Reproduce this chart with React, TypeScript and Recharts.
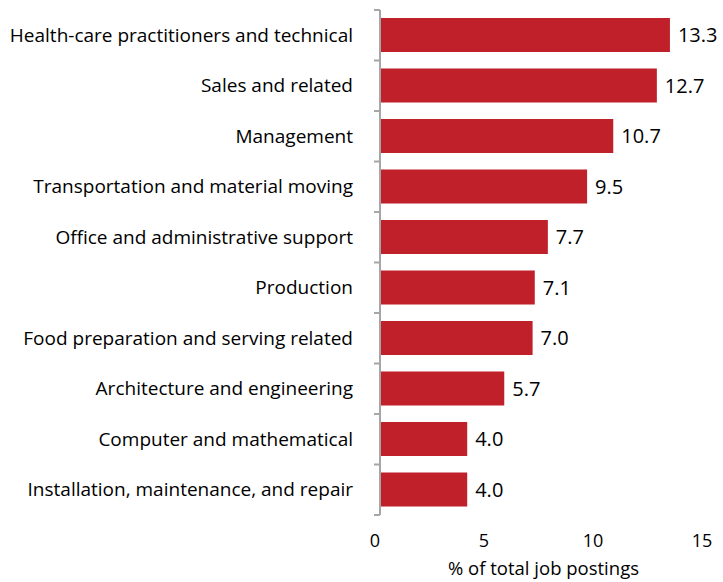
import React from 'react';
import { BarChart, Bar, XAxis, YAxis, LabelList } from 'recharts';

const categories = [
  'Health-care practitioners and technical',
  'Sales and related',
  'Management',
  'Transportation and material moving',
  'Office and administrative support',
  'Production',
  'Food preparation and serving related',
  'Architecture and engineering',
  'Computer and mathematical',
  'Installation, maintenance, and repair',
];
const shares = [13.3, 12.7, 10.7, 9.5, 7.7, 7.1, 7.0, 5.7, 4.0, 4.0];
const xTicks = [0, 5, 10, 15];

const data = categories.map((name, i) => ({ name, value: shares[i] }));

const W = 723;
const H = 582;
const TOP = 10;
const BOTTOM = 67;
const BAND = (H - TOP - BOTTOM) / categories.length;
const FONT = '"Open Sans", Lato, sans-serif';

const CategoryTick = (props: any) => {
  const { x, y, payload, index } = props;
  const axisX = x + 8;
  return (
    <g>
      <line x1={axisX - 6} x2={axisX} y1={y - BAND / 2} y2={y - BAND / 2} stroke="#a6a6a6" strokeWidth={2} />
      {index === categories.length - 1 && (
        <line x1={axisX - 6} x2={axisX} y1={y + BAND / 2} y2={y + BAND / 2} stroke="#a6a6a6" strokeWidth={2} />
      )}
      <text x={axisX - 27} y={y} dy="0.35em" textAnchor="end" fontSize={19} fill="#000" fontFamily={FONT}>
        {payload.value}
      </text>
    </g>
  );
};

export default function App() {
  return (
    <div style={{ position: 'absolute', left: 0, top: 0, background: '#fff' }}>
      <BarChart
        width={W}
        height={H}
        data={data}
        layout="vertical"
        margin={{ top: TOP, right: 16, bottom: 0, left: 0 }}
        barCategoryGap="16%"
      >
        <XAxis
          type="number"
          domain={[0, 15]}
          ticks={xTicks}
          axisLine={false}
          tickLine={false}
          tickMargin={13}
          height={BOTTOM}
          tick={{ fontSize: 18, fill: '#000', fontFamily: FONT, dx: -5 }}
          label={{ value: '% of total job postings', position: 'insideBottom', offset: 7, fontSize: 18.5, fill: '#000', fontFamily: FONT }}
        />
        <YAxis
          type="category"
          dataKey="name"
          width={380}
          axisLine={{ stroke: '#a6a6a6', strokeWidth: 2 }}
          tickLine={false}
          tick={<CategoryTick />}
          interval={0}
        />
        <Bar dataKey="value" fill="#c0202a" isAnimationActive={false}>
          <LabelList
            dataKey="value"
            position="right"
            offset={8}
            formatter={(v: any) => Number(v).toFixed(1)}
            style={{ fontSize: 20, fill: '#000', fontFamily: FONT }}
          />
        </Bar>
      </BarChart>
    </div>
  );
}
